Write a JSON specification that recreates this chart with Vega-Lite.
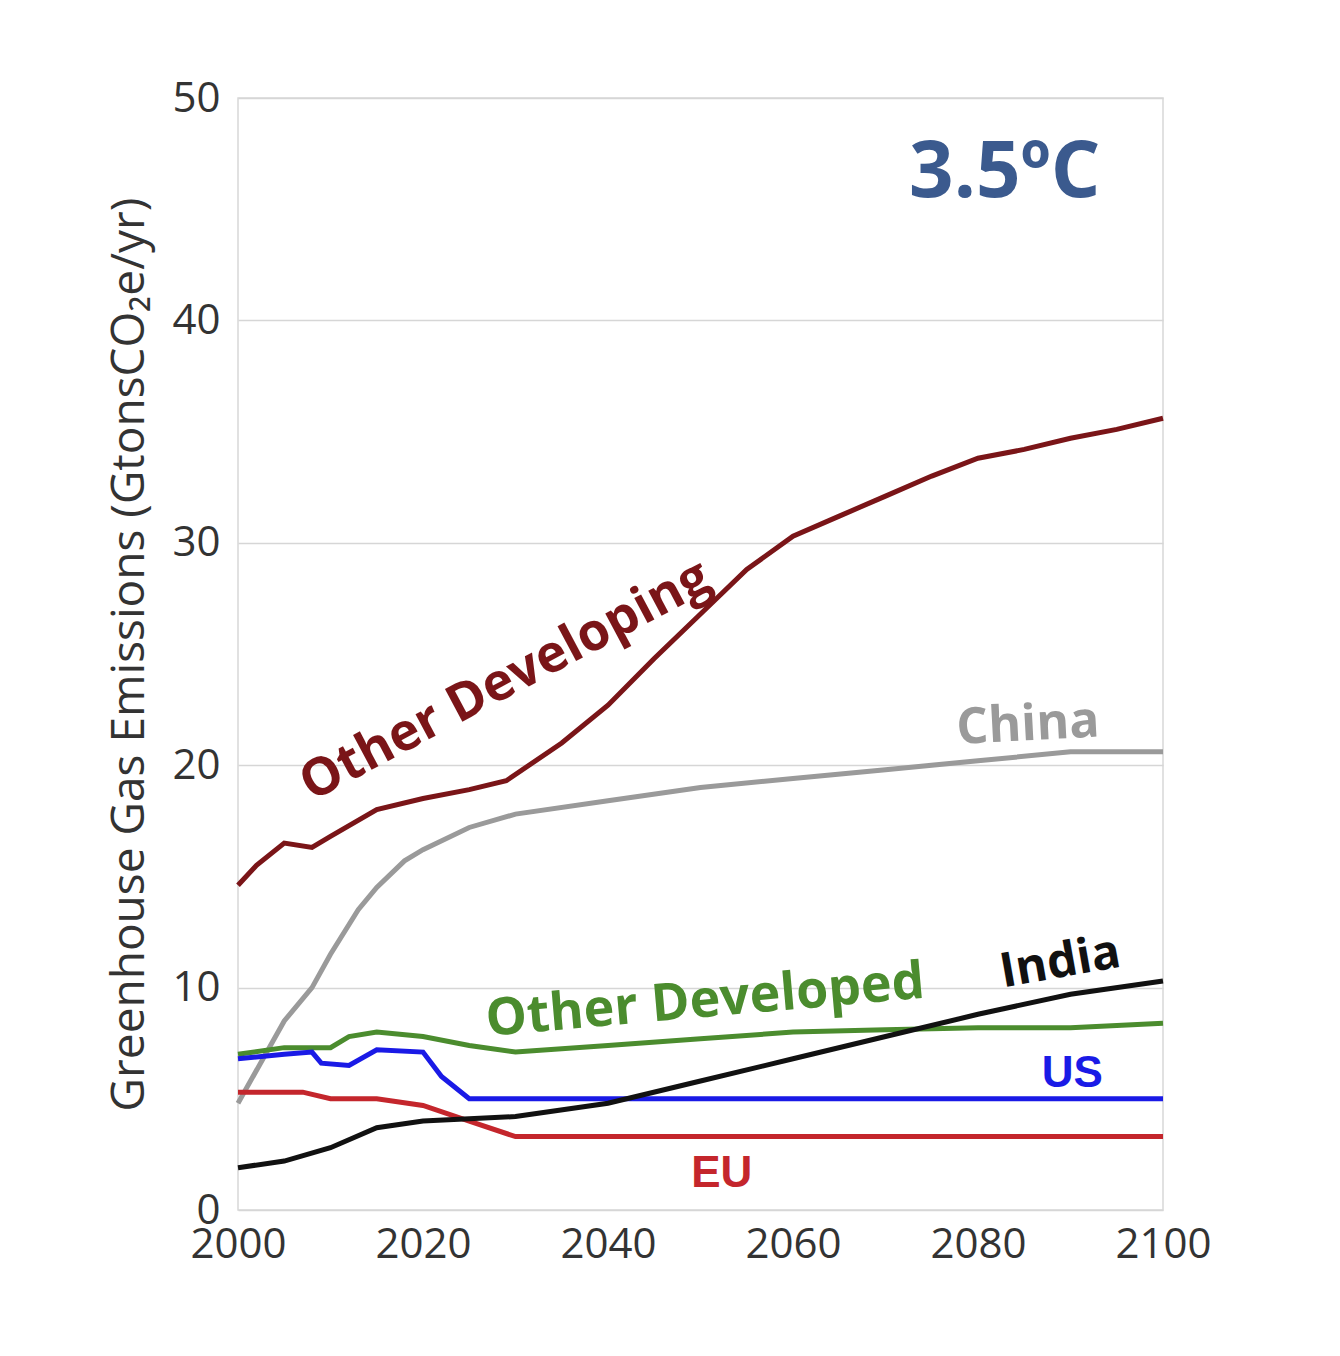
{
  "$schema": "https://vega.github.io/schema/vega-lite/v6.json",
  "width": 925,
  "height": 1112,
  "autosize": "none",
  "padding": {"left": 238, "top": 98, "right": 177, "bottom": 146},
  "background": "white",
  "config": {
    "font": "Open Sans",
    "view": {"stroke": "#d8d8d8", "strokeWidth": 1.5},
    "axis": {
      "labelFont": "Open Sans",
      "labelFontSize": 42,
      "labelColor": "#333",
      "labelFlush": false,
      "titleFont": "Open Sans",
      "titleFontSize": 46,
      "titleFontWeight": "normal",
      "titleColor": "#333",
      "grid": true,
      "gridColor": "#d6d6d6",
      "gridWidth": 1.5,
      "domain": false,
      "ticks": false
    }
  },
  "layer": [
    {
      "data": {"values": [
        {"s": "Other Developing", "year": 2000, "v": 14.6},
        {"s": "Other Developing", "year": 2002, "v": 15.5},
        {"s": "Other Developing", "year": 2005, "v": 16.5},
        {"s": "Other Developing", "year": 2008, "v": 16.3},
        {"s": "Other Developing", "year": 2010, "v": 16.8},
        {"s": "Other Developing", "year": 2015, "v": 18.0},
        {"s": "Other Developing", "year": 2020, "v": 18.5},
        {"s": "Other Developing", "year": 2025, "v": 18.9},
        {"s": "Other Developing", "year": 2029, "v": 19.3},
        {"s": "Other Developing", "year": 2035, "v": 21.0},
        {"s": "Other Developing", "year": 2040, "v": 22.7},
        {"s": "Other Developing", "year": 2045, "v": 24.8},
        {"s": "Other Developing", "year": 2050, "v": 26.8},
        {"s": "Other Developing", "year": 2055, "v": 28.8},
        {"s": "Other Developing", "year": 2060, "v": 30.3},
        {"s": "Other Developing", "year": 2065, "v": 31.2},
        {"s": "Other Developing", "year": 2070, "v": 32.1},
        {"s": "Other Developing", "year": 2075, "v": 33.0},
        {"s": "Other Developing", "year": 2080, "v": 33.8},
        {"s": "Other Developing", "year": 2085, "v": 34.2},
        {"s": "Other Developing", "year": 2090, "v": 34.7},
        {"s": "Other Developing", "year": 2095, "v": 35.1},
        {"s": "Other Developing", "year": 2100, "v": 35.6},
        {"s": "China", "year": 2000, "v": 4.8},
        {"s": "China", "year": 2005, "v": 8.5},
        {"s": "China", "year": 2008, "v": 10.0},
        {"s": "China", "year": 2010, "v": 11.5},
        {"s": "China", "year": 2013, "v": 13.5},
        {"s": "China", "year": 2015, "v": 14.5},
        {"s": "China", "year": 2018, "v": 15.7},
        {"s": "China", "year": 2020, "v": 16.2},
        {"s": "China", "year": 2025, "v": 17.2},
        {"s": "China", "year": 2030, "v": 17.8},
        {"s": "China", "year": 2040, "v": 18.4},
        {"s": "China", "year": 2050, "v": 19.0},
        {"s": "China", "year": 2060, "v": 19.4},
        {"s": "China", "year": 2070, "v": 19.8},
        {"s": "China", "year": 2080, "v": 20.2},
        {"s": "China", "year": 2090, "v": 20.6},
        {"s": "China", "year": 2100, "v": 20.6},
        {"s": "Other Developed", "year": 2000, "v": 7.0},
        {"s": "Other Developed", "year": 2005, "v": 7.3},
        {"s": "Other Developed", "year": 2010, "v": 7.3},
        {"s": "Other Developed", "year": 2012, "v": 7.8},
        {"s": "Other Developed", "year": 2015, "v": 8.0},
        {"s": "Other Developed", "year": 2020, "v": 7.8},
        {"s": "Other Developed", "year": 2025, "v": 7.4},
        {"s": "Other Developed", "year": 2030, "v": 7.1},
        {"s": "Other Developed", "year": 2040, "v": 7.4},
        {"s": "Other Developed", "year": 2050, "v": 7.7},
        {"s": "Other Developed", "year": 2060, "v": 8.0},
        {"s": "Other Developed", "year": 2070, "v": 8.1},
        {"s": "Other Developed", "year": 2080, "v": 8.2},
        {"s": "Other Developed", "year": 2090, "v": 8.2},
        {"s": "Other Developed", "year": 2100, "v": 8.4},
        {"s": "US", "year": 2000, "v": 6.8},
        {"s": "US", "year": 2005, "v": 7.0},
        {"s": "US", "year": 2008, "v": 7.1},
        {"s": "US", "year": 2009, "v": 6.6},
        {"s": "US", "year": 2012, "v": 6.5},
        {"s": "US", "year": 2015, "v": 7.2},
        {"s": "US", "year": 2020, "v": 7.1},
        {"s": "US", "year": 2022, "v": 6.0},
        {"s": "US", "year": 2025, "v": 5.0},
        {"s": "US", "year": 2100, "v": 5.0},
        {"s": "EU", "year": 2000, "v": 5.3},
        {"s": "EU", "year": 2007, "v": 5.3},
        {"s": "EU", "year": 2010, "v": 5.0},
        {"s": "EU", "year": 2015, "v": 5.0},
        {"s": "EU", "year": 2020, "v": 4.7},
        {"s": "EU", "year": 2025, "v": 4.0},
        {"s": "EU", "year": 2030, "v": 3.3},
        {"s": "EU", "year": 2100, "v": 3.3},
        {"s": "India", "year": 2000, "v": 1.9},
        {"s": "India", "year": 2005, "v": 2.2},
        {"s": "India", "year": 2010, "v": 2.8},
        {"s": "India", "year": 2015, "v": 3.7},
        {"s": "India", "year": 2020, "v": 4.0},
        {"s": "India", "year": 2025, "v": 4.1},
        {"s": "India", "year": 2030, "v": 4.2},
        {"s": "India", "year": 2040, "v": 4.8},
        {"s": "India", "year": 2050, "v": 5.8},
        {"s": "India", "year": 2060, "v": 6.8},
        {"s": "India", "year": 2070, "v": 7.8},
        {"s": "India", "year": 2080, "v": 8.8},
        {"s": "India", "year": 2090, "v": 9.7},
        {"s": "India", "year": 2100, "v": 10.3}
      ]},
      "mark": {"type": "line", "strokeWidth": 5},
      "encoding": {
        "x": {"field": "year", "type": "quantitative", "scale": {"domain": [2000, 2100], "nice": false},
              "axis": {"values": [2000, 2020, 2040, 2060, 2080, 2100], "format": "d", "title": null, "labelPadding": 14, "grid": false}},
        "y": {"field": "v", "type": "quantitative", "scale": {"domain": [0, 50], "nice": false},
              "axis": {"values": [0, 10, 20, 30, 40, 50], "title": "Greenhouse Gas Emissions (GtonsCO₂e/yr)", "titlePadding": 18, "labelPadding": 18}},
        "color": {"field": "s", "type": "nominal", "legend": null,
                  "scale": {"domain": ["Other Developing", "China", "Other Developed", "US", "EU", "India"],
                            "range": ["#7a1518", "#9a9a9a", "#4b8c2e", "#1a1ae6", "#c4262c", "#111111"]}},
        "detail": {"field": "s"}
      }
    },
    {
      "data": {"values": [{"year": 2028.9, "v": 23.8, "label": "Other Developing"}]},
      "mark": {"type": "text", "font": "Open Sans", "fontWeight": "bold", "fontSize": 52, "angle": -28, "color": "#7a1518"},
      "encoding": {"x": {"field": "year", "type": "quantitative"}, "y": {"field": "v", "type": "quantitative"}, "text": {"field": "label"}}
    },
    {
      "data": {"values": [{"year": 2085.4, "v": 21.8, "label": "China"}]},
      "mark": {"type": "text", "font": "Open Sans", "fontWeight": "bold", "fontSize": 50, "angle": -3, "color": "#9a9a9a"},
      "encoding": {"x": {"field": "year", "type": "quantitative"}, "y": {"field": "v", "type": "quantitative"}, "text": {"field": "label"}}
    },
    {
      "data": {"values": [{"year": 2050.5, "v": 9.4, "label": "Other Developed"}]},
      "mark": {"type": "text", "font": "Open Sans", "fontWeight": "bold", "fontSize": 52, "angle": -5, "color": "#4b8c2e"},
      "encoding": {"x": {"field": "year", "type": "quantitative"}, "y": {"field": "v", "type": "quantitative"}, "text": {"field": "label"}}
    },
    {
      "data": {"values": [{"year": 2088.9, "v": 11.1, "label": "India"}]},
      "mark": {"type": "text", "font": "Open Sans", "fontWeight": "bold", "fontSize": 48, "angle": -10, "color": "#111111"},
      "encoding": {"x": {"field": "year", "type": "quantitative"}, "y": {"field": "v", "type": "quantitative"}, "text": {"field": "label"}}
    },
    {
      "data": {"values": [{"year": 2090.2, "v": 6.1, "label": "US"}]},
      "mark": {"type": "text", "font": "Liberation Sans", "fontWeight": "bold", "fontSize": 44, "color": "#1a1ae6"},
      "encoding": {"x": {"field": "year", "type": "quantitative"}, "y": {"field": "v", "type": "quantitative"}, "text": {"field": "label"}}
    },
    {
      "data": {"values": [{"year": 2052.3, "v": 1.6, "label": "EU"}]},
      "mark": {"type": "text", "font": "Liberation Sans", "fontWeight": "bold", "fontSize": 44, "color": "#c4262c"},
      "encoding": {"x": {"field": "year", "type": "quantitative"}, "y": {"field": "v", "type": "quantitative"}, "text": {"field": "label"}}
    },
    {
      "data": {"values": [{"year": 2082.9, "v": 46.6, "label": "3.5ºC"}]},
      "mark": {"type": "text", "font": "Open Sans", "fontWeight": "bold", "fontSize": 78, "color": "#3b5a8e"},
      "encoding": {"x": {"field": "year", "type": "quantitative"}, "y": {"field": "v", "type": "quantitative"}, "text": {"field": "label"}}
    }
  ]
}
